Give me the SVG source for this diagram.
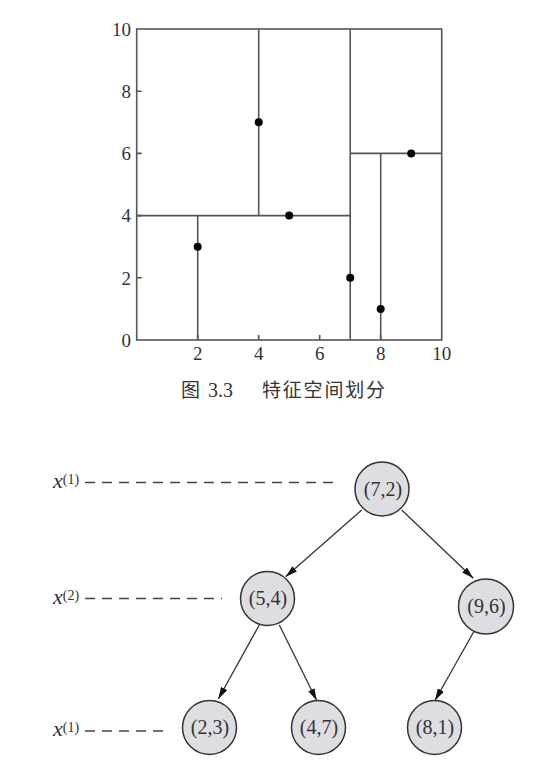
<svg xmlns="http://www.w3.org/2000/svg" width="538" height="770" viewBox="0 0 538 770">
<style>
.pl{stroke:#555;stroke-width:1.6;fill:none}
.tk{font-family:"Liberation Serif","Times New Roman",serif;font-size:19px;fill:#333}
.pt{fill:#000}
.nd circle{fill:#dedde2;stroke:#333;stroke-width:1.5}
.nd text{font-family:"Liberation Serif","Times New Roman",serif;font-size:20px;fill:#333;text-anchor:middle}
.cn line{stroke:#333;stroke-width:1.3}
.dash{stroke:#444;stroke-width:1.5;stroke-dasharray:10 7}
.lab{font-family:"Liberation Serif","Times New Roman",serif;fill:#333}
.cap{font-family:"Noto Sans CJK SC",sans-serif;font-size:19px;fill:#333}
</style>
<defs>
<marker id="ah" markerUnits="userSpaceOnUse" markerWidth="12" markerHeight="7" refX="12" refY="3.5" orient="auto">
<path d="M0,0 L12,3.5 L0,7 Z" fill="#111"/>
</marker>
</defs>
<rect width="538" height="770" fill="#fff"/>
<g id="plot">
<rect class="pl" x="136.7" y="29" width="305" height="311"/>
<line class="pl" x1="350.2" y1="29" x2="350.2" y2="340"/>
<line class="pl" x1="136.7" y1="215.6" x2="350.2" y2="215.6"/>
<line class="pl" x1="258.7" y1="29" x2="258.7" y2="215.6"/>
<line class="pl" x1="197.7" y1="215.6" x2="197.7" y2="340"/>
<line class="pl" x1="350.2" y1="153.4" x2="441.7" y2="153.4"/>
<line class="pl" x1="380.7" y1="153.4" x2="380.7" y2="340"/>
<path class="pl" d="M136.7,277.8h5M136.7,215.6h5M136.7,153.4h5M136.7,91.2h5M197.7,340v-5M258.7,340v-5M319.7,340v-5M380.7,340v-5"/>
<circle class="pt" cx="197.7" cy="246.7" r="4"/>
<circle class="pt" cx="289.2" cy="215.6" r="4"/>
<circle class="pt" cx="411.2" cy="153.4" r="4"/>
<circle class="pt" cx="258.7" cy="122.3" r="4"/>
<circle class="pt" cx="380.7" cy="308.9" r="4"/>
<circle class="pt" cx="350.2" cy="277.8" r="4"/>
<g class="tk" text-anchor="end">
<text x="131" y="36">10</text>
<text x="131" y="98">8</text>
<text x="131" y="160">6</text>
<text x="131" y="222">4</text>
<text x="131" y="285">2</text>
<text x="131" y="347">0</text>
</g>
<g class="tk" text-anchor="middle">
<text x="197.7" y="360">2</text>
<text x="258.7" y="360">4</text>
<text x="319.7" y="360">6</text>
<text x="380.7" y="360">8</text>
<text x="441.7" y="360">10</text>
</g>
<text class="cap" y="397"><tspan x="181">图</tspan><tspan x="208" font-family="Liberation Serif,serif" font-size="20">3.3</tspan><tspan x="262" textLength="123">特征空间划分</tspan></text>
</g>
<g id="levels">
<text class="lab" x="53" y="488"><tspan font-style="italic" font-size="22">x</tspan><tspan font-size="14" dy="-4">(1)</tspan></text>
<line class="dash" x1="85" y1="482.5" x2="336" y2="482.5"/>
<text class="lab" x="53" y="604"><tspan font-style="italic" font-size="22">x</tspan><tspan font-size="14" dy="-4">(2)</tspan></text>
<line class="dash" x1="85" y1="598.5" x2="222" y2="598.5"/>
<text class="lab" x="53" y="736"><tspan font-style="italic" font-size="22">x</tspan><tspan font-size="14" dy="-4">(1)</tspan></text>
<line class="dash" x1="85" y1="731" x2="166" y2="731"/>
</g>
<g id="connectors" class="cn">
<line x1="361.7" y1="510" x2="285.7" y2="576.7" marker-end="url(#ah)"/>
<line x1="401.7" y1="510" x2="473.3" y2="578.3" marker-end="url(#ah)"/>
<line x1="259.3" y1="625" x2="218.3" y2="699" marker-end="url(#ah)"/>
<line x1="279.3" y1="625" x2="316.7" y2="700.5" marker-end="url(#ah)"/>
<line x1="474.3" y1="630.7" x2="435" y2="700.5" marker-end="url(#ah)"/>
</g>
<g id="n72" class="nd"><circle cx="382" cy="489" r="27"/><text x="383" y="495.5">(7,2)</text></g>
<g id="n54" class="nd"><circle cx="267.5" cy="598.5" r="27"/><text x="268" y="605">(5,4)</text></g>
<g id="n96" class="nd"><circle cx="486" cy="606.5" r="27.5"/><text x="486.5" y="613">(9,6)</text></g>
<g id="n23" class="nd"><circle cx="209.5" cy="727.5" r="27"/><text x="210" y="734">(2,3)</text></g>
<g id="n47" class="nd"><circle cx="318.5" cy="727.5" r="27"/><text x="319" y="734">(4,7)</text></g>
<g id="n81" class="nd"><circle cx="434.5" cy="727.5" r="27"/><text x="435" y="734">(8,1)</text></g>
</svg>
